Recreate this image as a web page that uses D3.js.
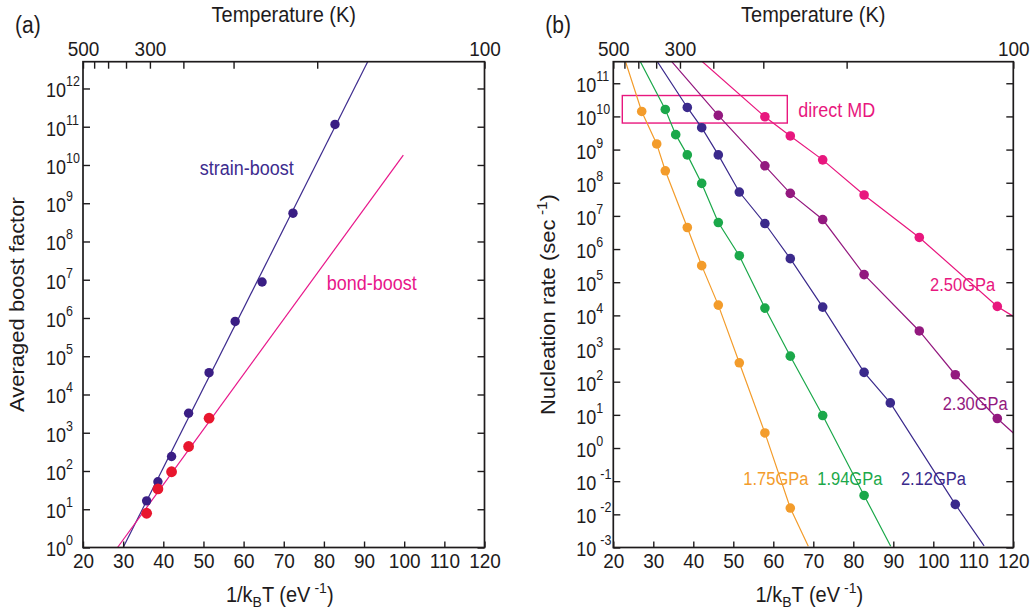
<!DOCTYPE html>
<html><head><meta charset="utf-8">
<script src="https://cdn.jsdelivr.net/npm/d3@7"></script>
<style>
body{margin:0;background:#fff}
svg{display:block}
text{font-family:"Liberation Sans",Arial,Helvetica,sans-serif;fill:#1e1b1c}
</style>
</head><body>
<svg id="c" width="1032" height="612"></svg>
<script>
// ---------- data ----------
const xTicks = [20,30,40,50,60,70,80,90,100,110,120];
const tempTicks = [500,450,400,350,300,250,200,150,100];
const tempLabels = [500,300,100];
const boostDecades = [0,1,2,3,4,5,6,7,8,9,10,11,12];
const rateDecades = [-3,-2,-1,0,1,2,3,4,5,6,7,8,9,10,11];

// panel (a): x = 1/kBT (eV^-1), values = log10(boost factor)
const strainX   = [35.85,38.66,42.06,46.3,51.4,57.9,64.6,72.3,82.76];
const strainLog = [1.22,1.72,2.38,3.51,4.57,5.91,6.94,8.74,11.06];
const strainFit = [[30.0,0],[90.97,12.71]];
const bondX   = [35.85,38.66,42.06,46.3,51.4];
const bondLog = [0.895,1.53,1.98,2.64,3.38];
const bondFit = [[28.6,0],[99.78,10.26]];

// panel (b): values = log10(nucleation rate / s^-1)
const p175X   = [27.1,30.85,33.0,38.5,42.1,46.25,51.5,57.9,64.25];
const p175Log = [10.15,9.17,8.36,6.65,5.50,4.31,2.57,0.455,-1.81];
const p175Ends = [[22.9,11.71],[68.75,-2.96]];
const p194X   = [33.0,35.6,38.5,42.1,46.25,51.5,57.9,64.25,72.35,82.7];
const p194Log = [10.21,9.45,8.84,7.98,6.80,5.80,4.22,2.77,0.98,-1.43];
const p194Ends = [[26.5,11.71],[89.35,-2.96]];
const p212X   = [38.5,42.1,46.25,51.5,57.9,64.25,72.35,82.7,89.25,105.5];
const p212Log = [10.27,9.66,8.84,7.72,6.77,5.71,4.25,2.28,1.36,-1.70];
const p212Ends = [[30.7,11.71],[112.7,-2.95]];
const p230X   = [46.25,57.9,64.25,72.35,82.7,96.5,105.5,116];
const p230Log = [10.03,8.51,7.68,6.89,5.23,3.53,2.21,0.89];
const p230Ends = [[34.2,11.71],[120,0.455]];
const p250X   = [57.9,64.25,72.35,82.7,96.5,116];
const p250Log = [9.99,9.41,8.69,7.63,6.35,4.27];
const p250Ends = [[41.7,11.71],[120,3.97]];
const mdBoxX = [22.25,63.5];
const mdBoxLog = [9.80,10.63];

const seriesB = [
  {name:"1.75GPa", xs:p175X, ls:p175Log, ends:p175Ends, color:"#f39c2b", lab:[52.5,-1.12]},
  {name:"1.94GPa", xs:p194X, ls:p194Log, ends:p194Ends, color:"#1ba84a", lab:[71.0,-1.12]},
  {name:"2.12GPa", xs:p212X, ls:p212Log, ends:p212Ends, color:"#3b2a8c", lab:[91.9,-1.12]},
  {name:"2.30GPa", xs:p230X, ls:p230Log, ends:p230Ends, color:"#93197f", lab:[102.35,1.14]},
  {name:"2.50GPa", xs:p250X, ls:p250Log, ends:p250Ends, color:"#e8177e", lab:[99.2,4.73]}
];

// ---------- drawing ----------
const svg = d3.select("#c");
const TOP = 61.7, BOT = 547.5, K = 1.1;

function stretch(sel){
  sel.each(function(){
    const el = d3.select(this);
    const x = +el.attr("x")||0, y = +el.attr("y")||0;
    el.attr("transform",`translate(${x},${y}) scale(1,${K}) translate(${-x},${-y})`);
  });
}

function panel(id, x0, x1, yDomainLog, decades, letter, yTitle, yTitleSup, ytx){
  const x = d3.scaleLinear().domain([20,120]).range([x0,x1]);
  const y = d3.scaleLog().domain([Math.pow(10,yDomainLog[0]), Math.pow(10,yDomainLog[1])]).range([BOT,TOP]);
  const t = d3.scaleLinear().domain([1/500,1/100]).range([x(20),x(120)]);
  const g = svg.append("g");
  g.append("clipPath").attr("id","clip"+id).append("rect")
    .attr("x",x0).attr("y",TOP).attr("width",x1-x0).attr("height",BOT-TOP);
  const plot = g.append("g").attr("clip-path","url(#clip"+id+")");

  const bx = g.append("g").attr("transform",`translate(0,${BOT})`)
    .call(d3.axisBottom(x).tickValues(xTicks).tickSizeInner(-6).tickSizeOuter(0).tickPadding(6));
  const tx = g.append("g").attr("transform",`translate(0,${TOP})`)
    .call(d3.axisTop(t).tickValues(tempTicks.map(v=>1/v)).tickSizeInner(-7).tickSizeOuter(0).tickPadding(6)
      .tickFormat(v=>{const T=Math.round(1/v); return tempLabels.includes(T)?String(T):"";}));
  const yv = decades.map(d=>Math.pow(10,d));
  const lx = g.append("g").attr("transform",`translate(${x0},0)`)
    .call(d3.axisLeft(y).tickValues(yv).tickSizeInner(-7).tickSizeOuter(0).tickFormat(""));
  const rx = g.append("g").attr("transform",`translate(${x1},0)`)
    .call(d3.axisRight(y).tickValues(yv).tickSizeInner(-7).tickSizeOuter(0).tickFormat(""));
  [bx,tx,lx,rx].forEach(a=>{
    a.select(".domain").remove();
    a.selectAll("line").attr("stroke","#1e1b1c").attr("stroke-width",1.4);
    a.selectAll("text").attr("font-size",19).attr("font-family",'"Liberation Sans",Arial,sans-serif').attr("fill","#1e1b1c");
  });
  stretch(bx.selectAll("text")); stretch(tx.selectAll("text"));
  g.append("rect").attr("x",x0).attr("y",TOP).attr("width",x1-x0).attr("height",BOT-TOP)
    .attr("fill","none").attr("stroke","#1e1b1c").attr("stroke-width",1.7);

  // y tick labels: "10" and the exponent as separate texts
  decades.forEach(d=>{
    const yy = y(Math.pow(10,d));
    g.append("text").attr("class","st").attr("x",x0-37).attr("y",yy+9).attr("font-size",18).text("10");
    g.append("text").attr("class","st").attr("x",x0-17+(d<0?4:0)).attr("y",yy-2).attr("font-size",12.5).text(String(d));
  });

  g.append("text").attr("class","st").attr("x",(x0+x1)/2).attr("y",22).attr("text-anchor","middle").attr("font-size",20).text("Temperature (K)");
  const xt = g.append("text").attr("class","st").attr("x",(x0+x1)/2-4).attr("y",602).attr("text-anchor","middle").attr("font-size",20);
  xt.append("tspan").text("1/k");
  xt.append("tspan").attr("font-size",14).attr("dy",5).text("B");
  xt.append("tspan").attr("dy",-5).text("T (eV");
  xt.append("tspan").attr("font-size",14).attr("dy",-8).attr("dx",4).text("-1");
  xt.append("tspan").attr("dy",8).text(")");
  const yt = g.append("text").attr("transform",`translate(${ytx},${(TOP+BOT)/2}) rotate(-90) scale(${K},1)`)
    .attr("text-anchor","middle").attr("font-size",20);
  yt.append("tspan").text(yTitle);
  if(yTitleSup){
    yt.append("tspan").attr("font-size",14).attr("dy",-8).attr("dx",4).text(yTitleSup);
    yt.append("tspan").attr("dy",8).text(")");
  }
  g.append("text").attr("class","st").attr("x",x0-68).attr("y",33).attr("font-size",21).text(letter);
  return {x,y,plot,g};
}

const A = panel("a", 83, 484.5, [0,12.7], boostDecades, "(a)", "Averaged boost factor", null, 24);
const B = panel("b", 613.3, 1013.3, [-3,11.65], rateDecades, "(b)", "Nucleation rate (sec", "-1", 555);

const lineA = d3.line().x(d=>A.x(d[0])).y(d=>A.y(Math.pow(10,d[1])));
A.plot.append("path").attr("d",lineA(strainFit)).attr("fill","none").attr("stroke","#3d2b8e").attr("stroke-width",1.2);
A.plot.append("path").attr("d",lineA(bondFit)).attr("fill","none").attr("stroke","#e8168a").attr("stroke-width",1.2);
A.plot.append("g").selectAll("circle").data(strainX.map((v,i)=>[v,strainLog[i]])).join("circle")
  .attr("cx",d=>A.x(d[0])).attr("cy",d=>A.y(Math.pow(10,d[1]))).attr("r",4.7).attr("fill","#3a1e84");
A.plot.append("g").selectAll("circle").data(bondX.map((v,i)=>[v,bondLog[i]])).join("circle")
  .attr("cx",d=>A.x(d[0])).attr("cy",d=>A.y(Math.pow(10,d[1]))).attr("r",5.4).attr("fill","#e8162e");
A.g.append("text").attr("class","st").attr("x",A.x(49.1)).attr("y",A.y(Math.pow(10,9.75))).attr("font-size",18).style("fill","#3d2b8e").text("strain-boost");
A.g.append("text").attr("class","st").attr("x",A.x(80.7)).attr("y",A.y(Math.pow(10,6.74))).attr("font-size",18).style("fill","#e8168a").text("bond-boost");

const lineB = d3.line().x(d=>B.x(d[0])).y(d=>B.y(Math.pow(10,d[1])));
B.plot.append("rect").attr("x",B.x(mdBoxX[0])).attr("y",B.y(Math.pow(10,mdBoxLog[1])))
  .attr("width",B.x(mdBoxX[1])-B.x(mdBoxX[0])).attr("height",B.y(Math.pow(10,mdBoxLog[0]))-B.y(Math.pow(10,mdBoxLog[1])))
  .attr("fill","none").attr("stroke","#e8177e").attr("stroke-width",1.4);
seriesB.forEach(s=>{
  const pts = s.xs.map((v,i)=>[v,s.ls[i]]);
  const full = [s.ends[0]].concat(pts,[s.ends[1]]);
  B.plot.append("path").attr("d",lineB(full)).attr("fill","none").attr("stroke",s.color).attr("stroke-width",1.2);
  B.plot.append("g").selectAll("circle").data(pts).join("circle")
    .attr("cx",d=>B.x(d[0])).attr("cy",d=>B.y(Math.pow(10,d[1]))).attr("r",4.8).attr("fill",s.color);
  B.g.append("text").attr("class","st").attr("x",B.x(s.lab[0])).attr("y",B.y(Math.pow(10,s.lab[1]))).attr("font-size",16.5).style("fill",s.color).text(s.name);
});
B.g.append("text").attr("class","st").attr("x",B.x(66.25)).attr("y",B.y(Math.pow(10,9.99))).attr("font-size",18).style("fill","#e8177e").text("direct MD");
stretch(svg.selectAll("text.st"));
</script>
</body></html>
